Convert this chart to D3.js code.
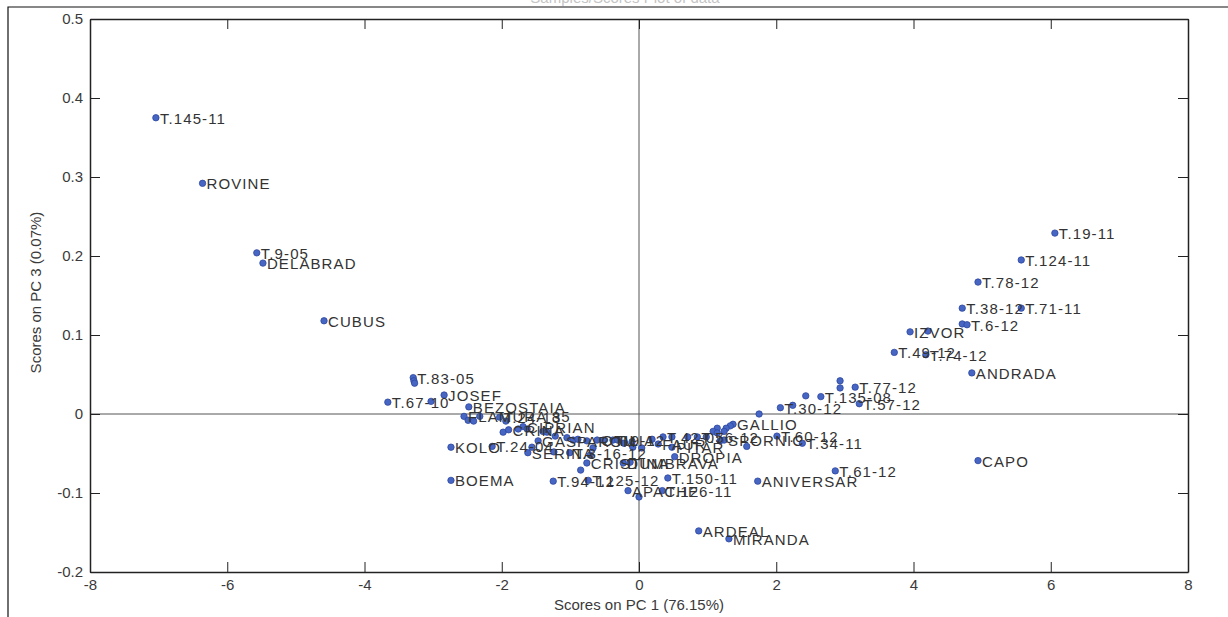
<!DOCTYPE html>
<html>
<head>
<meta charset="utf-8">
<script src="https://cdn.jsdelivr.net/npm/d3@7"></script>
<style>
  body { margin: 0; background: #fff; }
  svg { display: block; }
</style>
</head>
<body>
<div id="vis-container"></div>
<script>
/* PCA scores plot, PC1 vs PC3 */

const names = [
  "T.145-11", "ROVINE", "T.9-05", "DELABRAD", "CUBUS",
  "T.83-05", "", "", "T.67-10", "", "JOSEF", "BEZOSTAIA",
  "FLAMURA 85", "", "", "", "T.24-13", "", "", "CRINA", "", "CIPRIAN", "", "", "",
  "GASPAROM", "", "", "", "", "", "OTILIA", "", "T.9-12", "", "T.3-16-12",
  "KOLO", "T.24-04", "SERINA", "", "", "CRISTINA", "", "",
  "T.94-12", "T.125-12", "BOEMA", "APACHE", "", "T.126-11", "T.150-11",
  "DUMBRAVA", "", "ANIVERSAR", "ARDEAL", "MIRANDA", "T.61-12", "CAPO", "ANDRADA",
  "T.49-12", "T.74-12", "IZVOR", "", "", "T.6-12", "T.38-12", "T.71-11", "T.78-12",
  "T.124-11", "T.19-11", "T.77-12", "", "", "T.57-12", "T.135-08", "", "T.30-12", "", "",
  "GALLIO", "", "", "", "", "", "", "", "SPORNIC", "", "T.60-12", "T.34-11",
  "T.76-12", "T.42-05", "", "", "", "", "FAUR", "PITAR", "DROPIA", "", "", "", "", ""
];

const pc1 = [
  -7.04, -6.36, -5.57, -5.48, -4.59,
  -3.29, -3.28, -3.27, -3.66, -3.03, -2.84, -2.48,
  -2.55, -2.49, -2.41, -2.32, -2.03, -1.94, -1.98, -1.90, -1.76, -1.69, -1.63, -1.40, -1.34,
  -1.47, -1.22, -1.05, -0.96, -0.89, -0.76, -0.61, -0.52, -0.38, -0.67, -1.01,
  -2.74, -2.14, -1.62, -1.56, -1.24, -0.76, -0.85, -0.71,
  -1.25, -0.74, -2.74, -0.16, 0.00, 0.34, 0.42,
  -0.23, -0.13, 1.73, 0.87, 1.31, 2.86, 4.94, 4.85,
  3.72, 4.18, 3.95, 4.21, 4.71, 4.78, 4.71, 5.57, 4.94,
  5.57, 6.06, 3.15, 2.93, 2.93, 3.21, 2.65, 2.43, 2.06, 2.24, 1.75,
  1.37, 1.33, 1.27, 1.24, 1.14, 1.08, 1.14, 1.57, 1.24, 1.18, 2.01, 2.38,
  0.85, 0.35, 0.48, 0.71, 0.98, 0.19, 0.28, 0.48, 0.52, 0.04, -0.09, -0.22, -0.10, -0.31
];

const pc3 = [
  0.375, 0.292, 0.204, 0.191, 0.118,
  0.046, 0.042, 0.039, 0.015, 0.016, 0.024, 0.009,
  -0.003, -0.008, -0.009, -0.003, -0.004, -0.009, -0.023, -0.020, -0.019, -0.016, -0.019, -0.022, -0.023,
  -0.034, -0.028, -0.030, -0.033, -0.032, -0.034, -0.033, -0.033, -0.033, -0.043, -0.049,
  -0.042, -0.041, -0.049, -0.042, -0.048, -0.062, -0.071, -0.052,
  -0.085, -0.084, -0.084, -0.097, -0.105, -0.097, -0.081,
  -0.062, -0.061, -0.085, -0.148, -0.158, -0.072, -0.059, 0.052,
  0.078, 0.075, 0.104, 0.105, 0.114, 0.113, 0.134, 0.134, 0.167,
  0.195, 0.229, 0.034, 0.042, 0.033, 0.013, 0.022, 0.023, 0.008, 0.011, 0.000,
  -0.013, -0.015, -0.018, -0.022, -0.018, -0.022, -0.024, -0.041, -0.033, -0.034, -0.028, -0.037,
  -0.029, -0.029, -0.029, -0.029, -0.029, -0.032, -0.038, -0.042, -0.054, -0.043, -0.042, -0.037, -0.035, -0.033
];

const xTicks = [-8, -6, -4, -2, 0, 2, 4, 6, 8];
const yTicks = [-0.2, -0.1, 0, 0.1, 0.2, 0.3, 0.4, 0.5];

const xTitle = "Scores on PC 1 (76.15%)";
const yTitle = "Scores on PC 3 (0.07%)";
const plotTitle = "Samples/Scores Plot of data";

const width = 1228, height = 617;
const margin = {left: 90, right: 1188, top: 19, bottom: 572};
const tickLen = 10;
const font = "'Liberation Sans', Arial, Helvetica, sans-serif";

let svg = d3.select("#vis-container")
  .append("svg")
  .attr("width", width)
  .attr("height", height);

let x = d3.scaleLinear().domain([-8, 8]).range([margin.left, margin.right]);
let y = d3.scaleLinear().domain([-0.2, 0.5]).range([margin.bottom, margin.top]);

// figure frame (top and left edges)
svg.append("path")
  .attr("d", `M8,${height} V7 H${width}`)
  .attr("fill", "none")
  .attr("stroke", "#111")
  .attr("stroke-width", 1.2);

// title, mostly hidden above the frame as in the source figure
svg.append("text")
  .attr("x", 625)
  .attr("y", 3)
  .attr("text-anchor", "middle")
  .attr("font-family", font)
  .attr("font-size", 15)
  .attr("fill", "#c4c4c4")
  .text(plotTitle);

// zero lines
svg.append("line")
  .attr("x1", x(0)).attr("x2", x(0))
  .attr("y1", margin.top).attr("y2", margin.bottom)
  .attr("stroke", "#555").attr("stroke-width", 1);
svg.append("line")
  .attr("x1", margin.left).attr("x2", margin.right)
  .attr("y1", y(0)).attr("y2", y(0))
  .attr("stroke", "#555").attr("stroke-width", 1);

// axes with inward ticks on all four sides
let gBottom = svg.append("g")
  .attr("transform", `translate(0,${margin.bottom})`)
  .call(d3.axisBottom(x).tickValues(xTicks).tickSizeInner(-tickLen).tickSizeOuter(0).tickPadding(7)
    .tickFormat(d => String(d)));
let gTop = svg.append("g")
  .attr("transform", `translate(0,${margin.top})`)
  .call(d3.axisTop(x).tickValues(xTicks).tickSizeInner(-tickLen).tickSizeOuter(0).tickFormat(""));
let gLeft = svg.append("g")
  .attr("transform", `translate(${margin.left},0)`)
  .call(d3.axisLeft(y).tickValues(yTicks).tickSizeInner(-tickLen).tickSizeOuter(0).tickPadding(7)
    .tickFormat(d => Math.abs(d) < 1e-9 ? "0" : d.toFixed(1)));
let gRight = svg.append("g")
  .attr("transform", `translate(${margin.right},0)`)
  .call(d3.axisRight(y).tickValues(yTicks).tickSizeInner(-tickLen).tickSizeOuter(0).tickFormat(""));

[gBottom, gTop, gLeft, gRight].forEach(g => {
  g.select(".domain").attr("stroke", "#222").attr("stroke-width", 1.5);
  g.selectAll(".tick line").attr("stroke", "#222").attr("stroke-width", 1);
  g.selectAll(".tick text")
    .attr("font-family", font)
    .attr("font-size", 15)
    .attr("fill", "#3a3a3a");
});

// axis titles
svg.append("text")
  .attr("x", x(0))
  .attr("y", 610)
  .attr("text-anchor", "middle")
  .attr("font-family", font)
  .attr("font-size", 15)
  .attr("fill", "#3a3a3a")
  .text(xTitle);

svg.append("text")
  .attr("transform", `translate(41,${(margin.top + margin.bottom) / 2 - 3}) rotate(-90)`)
  .attr("text-anchor", "middle")
  .attr("font-family", font)
  .attr("font-size", 15)
  .attr("fill", "#3a3a3a")
  .text(yTitle);

// points
let data = names.map((n, i) => ({name: n, pc1: pc1[i], pc3: pc3[i]}));

let g = svg.append("g");
g.selectAll("circle")
  .data(data)
  .enter()
  .append("circle")
  .attr("cx", d => x(d.pc1))
  .attr("cy", d => y(d.pc3))
  .attr("r", 3.2)
  .attr("fill", "#4766c4")
  .attr("stroke", "#2c469e")
  .attr("stroke-width", 0.8);

g.selectAll("text")
  .data(data.filter(d => d.name))
  .enter()
  .append("text")
  .attr("x", d => x(d.pc1) + 4)
  .attr("y", d => y(d.pc3) + 6)
  .attr("font-family", font)
  .attr("font-size", 15)
  .attr("letter-spacing", 1.1)
  .attr("fill", "#333")
  .text(d => d.name);
</script>
</body>
</html>
